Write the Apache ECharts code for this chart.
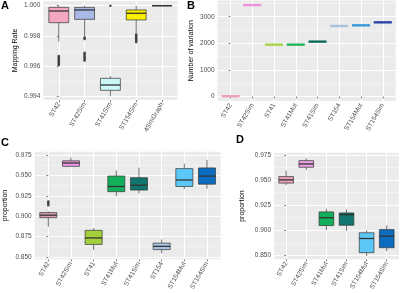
<!DOCTYPE html>
<html>
<head>
<meta charset="utf-8">
<script src="https://cdn.jsdelivr.net/npm/echarts@6/dist/echarts.min.js"></script>
<style>
  html, body { margin: 0; padding: 0; background: #fff; }
  #main { width: 400px; height: 293px; }
</style>
</head>
<body>
<div id="main"></div>
<script>
// ---- panel A : mapping rate ----
var catsA = ['ST42', 'ST42Sim', 'ST41Sim', 'ST154Sim', '4SimGraph'];
// [min, Q1, median, Q3, max]
var boxA = [
  [0.99763, 0.99888, 0.99965, 0.99989, 1.00000],
  [0.99800, 0.99910, 0.99972, 0.99989, 1.00000],
  [0.99405, 0.99442, 0.99477, 0.99521, 0.99535],
  [0.99818, 0.99906, 0.99950, 0.99972, 1.00000],
  [1.00000, 1.00000, 1.00000, 1.00000, 1.00000]
];
var outA = [
  [0, 0.99668], [0, 0.99658], [0, 0.99648], [0, 0.99638], [0, 0.99628], [0, 0.99618], [0, 0.99609],
  [1, 0.99790], [1, 0.99781], [1, 0.99690], [1, 0.99680], [1, 0.99668], [1, 0.99658], [1, 0.99648], [1, 0.99638],
  [2, 1.00000],
  [3, 0.99810], [3, 0.99800], [3, 0.99790], [3, 0.99780], [3, 0.99770], [3, 0.99760]
];
var colorsA = ['#f4a7c3', '#a9b8e6', '#ccf6f7', '#f8f000', 'none'];
var ticksA = [0.994, 0.996, 0.998, 1.000];
var tickLabelsA = ['0.994', '0.996', '0.998', '1.000'];
var minorA = [0.995, 0.997, 0.999];

// ---- panel B : number of variation ----
var catsB = ['ST42', 'ST42Sim', 'ST41', 'ST41Mut', 'ST41Sim', 'ST154', 'ST154Mut', 'ST154Sim'];
var valsB = [10, 3438, 1950, 1950, 2063, 2651, 2676, 2789];
var colorsB = ['#f2a0b4', '#f090dc', '#a6d14a', '#22b35f', '#0f6a5c', '#a9c3de', '#3a9ad6', '#2b44a3'];
var ticksB = [0, 1000, 2000, 3000];
var tickLabelsB = ['0', '1000', '2000', '3000'];
var minorB = [500, 1500, 2500, 3500];

// ---- panel C : proportion ----
var catsC = ['ST42', 'ST42Sim', 'ST41', 'ST41Mut', 'ST41Sim', 'ST154', 'ST154Mut', 'ST154Sim'];
var boxC = [
  [0.8868, 0.8981, 0.9012, 0.9044, 0.9060],
  [0.9610, 0.9613, 0.9654, 0.9681, 0.9721],
  [0.8584, 0.8652, 0.8732, 0.8825, 0.8852],
  [0.9245, 0.9301, 0.9365, 0.9493, 0.9561],
  [0.9281, 0.9321, 0.9381, 0.9473, 0.9597],
  [0.8544, 0.8588, 0.8628, 0.8668, 0.8712],
  [0.9333, 0.9365, 0.9445, 0.9585, 0.9645],
  [0.9337, 0.9393, 0.9493, 0.9593, 0.9693]
];
var outC = [[0, 0.9180], [0, 0.9160], [0, 0.9135]];
var colorsC = ['#d9a3b4', '#ee9be6', '#a4d03c', '#13b05b', '#10766e', '#a7c4e4', '#5cc8f7', '#0c6cc0'];
var ticksC = [0.850, 0.875, 0.900, 0.925, 0.950, 0.975];
var tickLabelsC = ['0.850', '0.875', '0.900', '0.925', '0.950', '0.975'];
var minorC = [0.8625, 0.8875, 0.9125, 0.9375, 0.9625];

// ---- panel D : proportion ----
var catsD = ['ST42', 'ST42Sim', 'ST41Mut', 'ST41Sim', 'ST154Mut', 'ST154Sim'];
var boxD = [
  [0.9450, 0.9470, 0.9502, 0.9535, 0.9595],
  [0.9601, 0.9628, 0.9661, 0.9694, 0.9717],
  [0.9001, 0.9047, 0.9125, 0.9183, 0.9215],
  [0.8995, 0.9050, 0.9155, 0.9173, 0.9205],
  [0.8743, 0.8777, 0.8918, 0.8975, 0.9001],
  [0.8793, 0.8826, 0.8941, 0.9007, 0.9050]
];
var colorsD = ['#e8a2ba', '#eba1e2', '#13b05b', '#10766e', '#5cc8f7', '#0c6cc0'];
var ticksD = [0.875, 0.900, 0.925, 0.950, 0.975];
var tickLabelsD = ['0.850', '0.900', '0.925', '0.950', '0.975'];
var minorD = [0.8875, 0.9125, 0.9375, 0.9625];

var FONT = 'Liberation Sans, Arial, sans-serif';

function idx(cats) {
  return cats.map(function (c, i) { return i; });
}

function labelOf(ticks, labels) {
  return function (v) {
    for (var k = 0; k < ticks.length; k++) {
      if (Math.abs(ticks[k] - v) < 1e-9) return labels[k];
    }
    return '';
  };
}

function xAxisFor(gi, cats) {
  return {
    type: 'value', gridIndex: gi, min: -0.6, max: cats.length - 0.4,
    axisLine: { show: false },
    axisTick: { show: true, customValues: idx(cats), length: 2, lineStyle: { color: '#333', width: 0.6 } },
    axisLabel: {
      customValues: idx(cats), rotate: 60, margin: 3, fontSize: 6.5, color: '#4d4d4d', fontFamily: FONT,
      formatter: function (v) { return cats[Math.round(v)]; }
    },
    splitLine: { show: true, lineStyle: { color: '#fff', width: 1 } }
  };
}

function yAxisFor(gi, min, max, ticks, labels, name, gap) {
  return {
    type: 'value', gridIndex: gi, min: min, max: max,
    name: name, nameLocation: 'middle', nameGap: gap, nameRotate: 90,
    nameTextStyle: { fontSize: 7, color: '#000', fontFamily: FONT },
    axisLine: { show: false },
    axisTick: { show: true, customValues: ticks, length: 2, lineStyle: { color: '#333', width: 0.6 } },
    axisLabel: { customValues: ticks, margin: 3, fontSize: 6.5, color: '#4d4d4d', fontFamily: FONT,
      formatter: labelOf(ticks, labels) },
    splitLine: { show: true, lineStyle: { color: '#fff', width: 1 } }
  };
}

function minorAxisFor(gi, min, max, minor) {
  return {
    type: 'value', gridIndex: gi, min: min, max: max, position: 'right',
    axisLine: { show: false },
    axisTick: { show: false, customValues: minor },
    axisLabel: { show: false, customValues: minor },
    splitLine: { show: true, lineStyle: { color: '#f7f7f7', width: 0.6 } }
  };
}

function boxRenderer(colors, ratio, flat) {
  return function (params, api) {
    var i = api.value(0);
    var lo = api.coord([i, api.value(1)]);
    var q1 = api.coord([i, api.value(2)]);
    var md = api.coord([i, api.value(3)]);
    var q3 = api.coord([i, api.value(4)]);
    var hi = api.coord([i, api.value(5)]);
    var half = api.size([1, 0])[0] * ratio / 2;
    var x = md[0];
    var col = colors[params.dataIndex];
    if (flat) {
      return {
        type: 'line',
        shape: { x1: x - half, y1: md[1], x2: x + half, y2: md[1] },
        style: { stroke: col, lineWidth: 2.4 }
      };
    }
    var edge = { stroke: '#333', lineWidth: 0.7 };
    return {
      type: 'group',
      children: [
        { type: 'line', shape: { x1: x, y1: hi[1], x2: x, y2: q3[1] }, style: edge },
        { type: 'line', shape: { x1: x, y1: q1[1], x2: x, y2: lo[1] }, style: edge },
        { type: 'rect', shape: { x: x - half, y: q3[1], width: half * 2, height: q1[1] - q3[1] },
          style: { fill: col, stroke: '#333', lineWidth: 0.7 } },
        { type: 'line', shape: { x1: x - half, y1: md[1], x2: x + half, y2: md[1] },
          style: { stroke: '#333', lineWidth: 1.3 } }
      ]
    };
  };
}

function boxData(box) {
  return box.map(function (b, i) { return [i].concat(b); });
}

function boxSeries(gi, box, colors, ratio, flat) {
  return {
    type: 'custom', xAxisIndex: gi, yAxisIndex: gi * 2,
    renderItem: boxRenderer(colors, ratio, flat),
    encode: { x: 0, y: [1, 2, 3, 4, 5] },
    data: boxData(box), z: 3, silent: true
  };
}

function outlierSeries(gi, pts) {
  return {
    type: 'scatter', xAxisIndex: gi, yAxisIndex: gi * 2,
    symbolSize: 2.6, itemStyle: { color: '#222' }, data: pts, z: 4, silent: true
  };
}

var boxB = valsB.map(function (v) { return [v, v, v, v, v]; });

var myChart = echarts.init(document.getElementById('main'), null, { renderer: 'canvas' });
myChart.setOption({
  animation: false,
  backgroundColor: '#fff',
  grid: [
    { left: 43.3, top: 1, width: 134.2, height: 99, show: true, backgroundColor: '#ebebeb', borderWidth: 0 },
    { left: 217.5, top: 0.5, width: 178.3, height: 100.5, show: true, backgroundColor: '#ebebeb', borderWidth: 0 },
    { left: 34.7, top: 151.7, width: 185.9, height: 110.3, show: true, backgroundColor: '#ebebeb', borderWidth: 0 },
    { left: 274.1, top: 152.7, width: 124.7, height: 107.3, show: true, backgroundColor: '#ebebeb', borderWidth: 0 }
  ],
  xAxis: [
    xAxisFor(0, catsA),
    xAxisFor(1, catsB),
    xAxisFor(2, catsC),
    xAxisFor(3, catsD)
  ],
  yAxis: [
    yAxisFor(0, 0.99378, 1.00031, ticksA, tickLabelsA, 'Mapping Rate', 25),
    minorAxisFor(0, 0.99378, 1.00031, minorA),
    yAxisFor(1, -170, 3610, ticksB, tickLabelsB, 'Number of variation', 23),
    minorAxisFor(1, -170, 3610, minorB),
    yAxisFor(2, 0.8468, 0.9793, ticksC, tickLabelsC, 'proportion', 26),
    minorAxisFor(2, 0.8468, 0.9793, minorC),
    yAxisFor(3, 0.871, 0.9773, ticksD, tickLabelsD, 'proportion', 29),
    minorAxisFor(3, 0.871, 0.9773, minorD)
  ],
  graphic: [
    { type: 'text', left: 1, top: 0, style: { text: 'A', font: 'bold 11px ' + FONT, fill: '#000' } },
    { type: 'text', left: 187, top: 0, style: { text: 'B', font: 'bold 11px ' + FONT, fill: '#000' } },
    { type: 'text', left: 1, top: 137, style: { text: 'C', font: 'bold 11px ' + FONT, fill: '#000' } },
    { type: 'text', left: 236, top: 134, style: { text: 'D', font: 'bold 11px ' + FONT, fill: '#000' } }
  ],
  series: [
    boxSeries(0, boxA, colorsA, 0.77, false),
    outlierSeries(0, outA),
    boxSeries(1, boxB, colorsB, 0.83, true),
    boxSeries(2, boxC, colorsC, 0.75, false),
    outlierSeries(2, outC),
    boxSeries(3, boxD, colorsD, 0.73, false)
  ]
});
window.addEventListener('resize', function () {
  myChart.resize();
});
</script>
</body>
</html>
